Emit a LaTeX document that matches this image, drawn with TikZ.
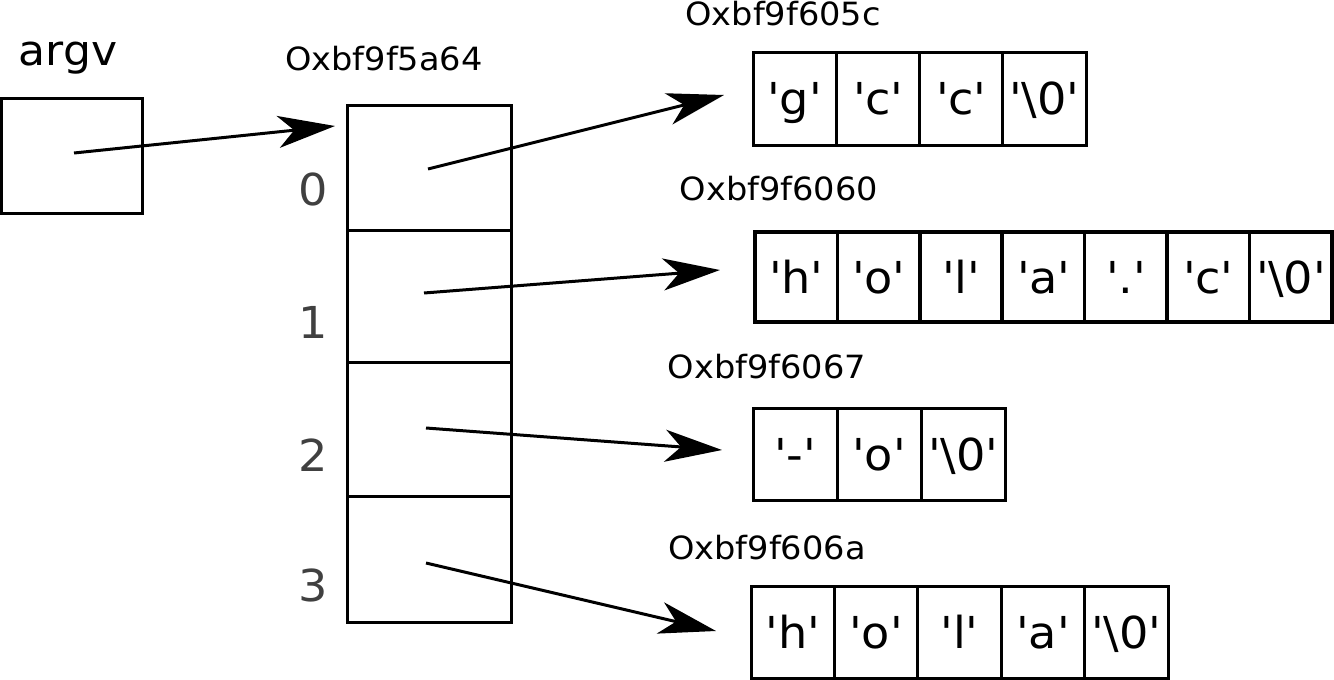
\documentclass[tikz,border=0pt]{standalone}
\usepackage{fontspec}
\setmainfont{DejaVu Sans}[FakeStretch=1.05]
\usetikzlibrary{arrows.meta}
\definecolor{idxgray}{HTML}{404040}
\newcommand{\myq}{\textquotesingle}
\tikzset{
  boxline/.style={draw, line width=3pt, inner sep=0pt, outer sep=0pt},
  cellbox/.style={boxline, anchor=north west, font=\fontsize{44}{44}\selectfont, text height=32pt, text depth=0pt},
  addr/.style={font=\fontsize{32}{32}\selectfont, anchor=base, inner sep=0pt},
  idx/.style={font=\fontsize{44}{44}\selectfont, text=idxgray, text height=32pt, text depth=0pt, inner sep=0pt},
  ptr/.style={line width=3pt, -{Stealth[length=57pt,width=32pt,inset=16pt]}},
}
\begin{document}
\begin{tikzpicture}[x=1pt,y=-1pt]
\useasboundingbox (0,0) rectangle (1334,680);
% argv
\node[font=\fontsize{42}{42}\selectfont, anchor=base, inner sep=0pt] (argvlbl) at (68,65) {argv};
\node[boxline, minimum width=141pt, minimum height=115pt] (argv) at (72,155.5) {};
% array
\node[addr] (arraddr) at (384,70) {Oxbf9f5a64};
\node[boxline, anchor=north west, minimum width=164pt, minimum height=125pt] (c0) at (347,105) {};
\node[boxline, anchor=north west, minimum width=164pt, minimum height=132pt] (c1) at (347,230) {};
\node[boxline, anchor=north west, minimum width=164pt, minimum height=134pt] (c2) at (347,362) {};
\node[boxline, anchor=north west, minimum width=164pt, minimum height=126pt] (c3) at (347,496) {};
\node[idx] (i0) at (313,189) {0};
\node[idx] (i1) at (313,322) {1};
\node[idx] (i2) at (313,455) {2};
\node[idx] (i3) at (313,585) {3};
% string 1
\node[addr] (a1) at (783,25) {Oxbf9f605c};
\foreach \t [count=\i] in {{\myq g\myq},{\myq c\myq},{\myq c\myq},{\myq\textbackslash 0\myq}}
  \node[cellbox, minimum width=83.25pt, minimum height=93pt] (s1-\i) at ({753+(\i-1)*83.25},52) {\t};
% string 2
\node[addr] (a2) at (779,200) {Oxbf9f6060};
\foreach \t [count=\i] in {{\myq h\myq},{\myq o\myq},{\myq l\myq},{\myq a\myq},{\myq.\myq},{\myq c\myq},{\myq\textbackslash 0\myq}}
  \node[cellbox, line width=3.6pt, minimum width=82.4pt, minimum height=90pt] (s2-\i) at ({755+(\i-1)*82.4},232) {\t};
% string 3
\node[addr] (a3) at (767,378) {Oxbf9f6067};
\foreach \t [count=\i] in {{\myq-\myq},{\myq o\myq},{\myq\textbackslash 0\myq}}
  \node[cellbox, minimum width=84pt, minimum height=92pt] (s3-\i) at ({753+(\i-1)*84},408) {\t};
% string 4
\node[addr] (a4) at (767,559) {Oxbf9f606a};
\foreach \t [count=\i] in {{\myq h\myq},{\myq o\myq},{\myq l\myq},{\myq a\myq},{\myq\textbackslash 0\myq}}
  \node[cellbox, minimum width=83.4pt, minimum height=92pt] (s4-\i) at ({751+(\i-1)*83.4},586) {\t};
% pointer coordinates
\coordinate (pa) at (74,153);  \coordinate (ta) at (335,126);
\coordinate (p0) at (428,169); \coordinate (t0) at (724,95);
\coordinate (p1) at (424,293); \coordinate (t1) at (720,270);
\coordinate (p2) at (426,428); \coordinate (t2) at (722,450);
\coordinate (p3) at (426,563); \coordinate (t3) at (716,631);
\draw[ptr] (pa) -- (ta);
\draw[ptr] (p0) -- (t0);
\draw[ptr] (p1) -- (t1);
\draw[ptr] (p2) -- (t2);
\draw[ptr] (p3) -- (t3);
\end{tikzpicture}
\end{document}
